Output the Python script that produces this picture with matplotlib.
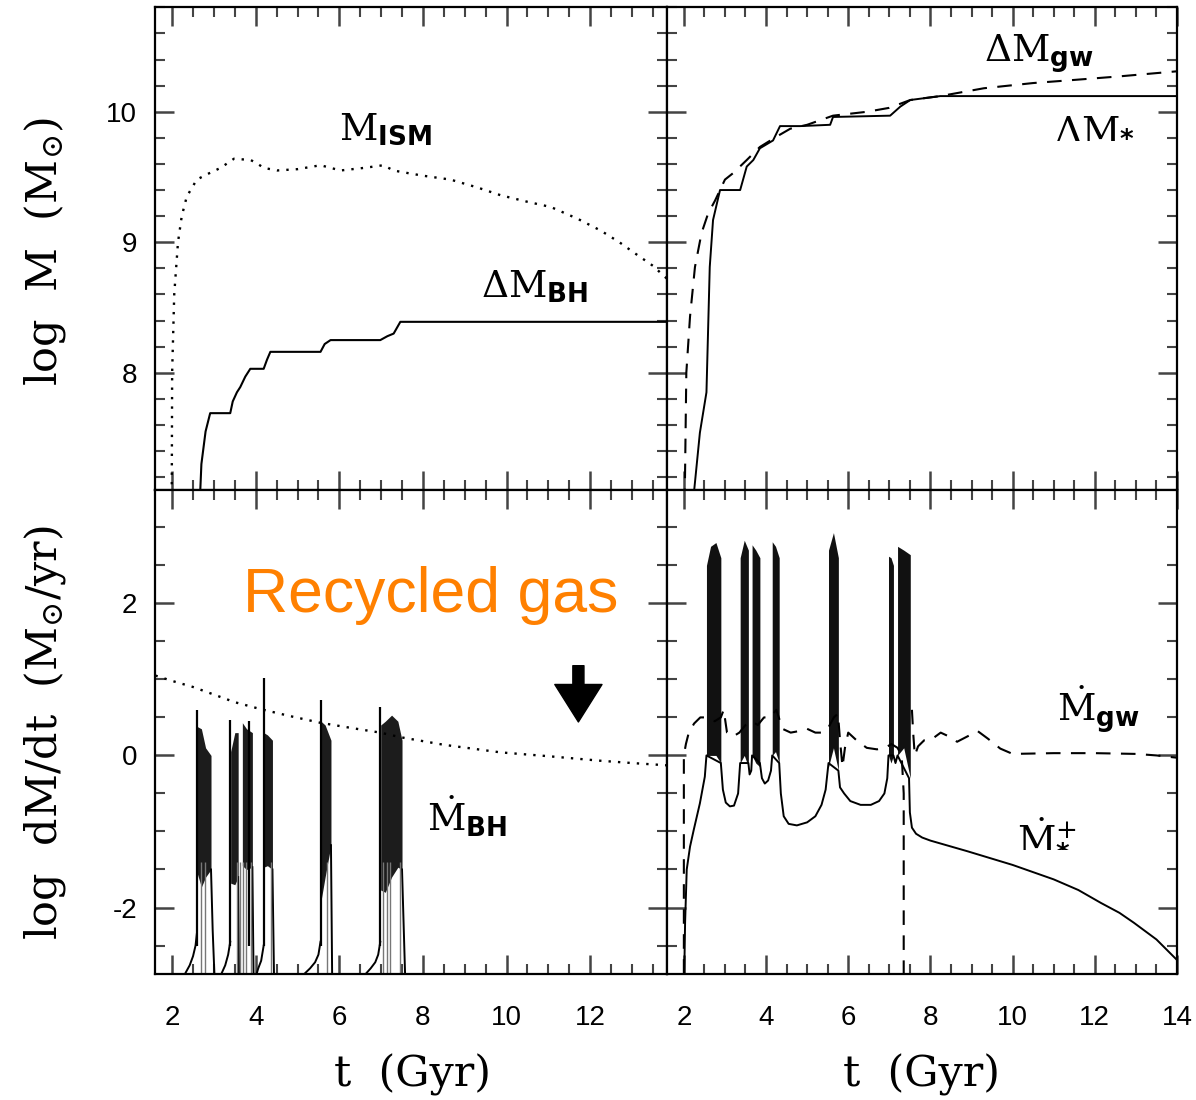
import matplotlib
matplotlib.use('Agg')
import matplotlib.pyplot as plt
from matplotlib import font_manager
from matplotlib.ticker import MultipleLocator
import numpy as np

plt.rcParams['axes.unicode_minus'] = False
plt.rcParams['mathtext.fontset'] = 'custom'
plt.rcParams['mathtext.rm'] = 'DejaVu Serif'
plt.rcParams['mathtext.it'] = 'DejaVu Serif:italic'
plt.rcParams['mathtext.bf'] = 'DejaVu Sans:bold'

# ---------------- data ----------------
# top left: ISM mass and accreted BH mass
ism_t = [1.99, 2.0, 2.05, 2.14, 2.23, 2.35, 2.59, 2.83, 3.16, 3.48, 3.88, 4.05, 4.19, 4.51, 5.0,
         5.55, 6.03, 6.6, 7.05, 7.3, 7.46, 8.0, 8.66, 9.3, 9.86, 10.5, 11.06, 11.7, 12.25, 12.7,
         13.05, 13.5, 13.84]
ism_y = [7.0, 8.0, 8.6, 9.0, 9.2, 9.35, 9.48, 9.52, 9.57, 9.64, 9.63, 9.6, 9.57, 9.55, 9.56,
         9.59, 9.55, 9.57, 9.59, 9.55, 9.54, 9.51, 9.48, 9.42, 9.36, 9.31, 9.27, 9.18, 9.09, 9.0,
         8.92, 8.82, 8.72]
dmbh_t = [2.66, 2.70, 2.80, 2.91, 3.39, 3.45, 3.55, 3.63, 3.75, 3.87, 4.19, 4.27, 4.35, 5.55,
          5.65, 5.79, 6.98, 7.15, 7.30, 7.46, 13.84]
dmbh_y = [7.0, 7.3, 7.55, 7.69, 7.69, 7.78, 7.85, 7.89, 7.97, 8.03, 8.03, 8.10, 8.16, 8.16,
          8.22, 8.25, 8.25, 8.28, 8.30, 8.39, 8.39]

# top right: galactic wind mass and new stars
dmgw_t = [2.02, 2.06, 2.15, 2.27, 2.43, 2.59, 2.76, 3.0, 3.2, 3.53, 3.85, 4.26, 4.59, 5.0, 5.63,
          6.46, 7.0, 7.51, 8.24, 9.3, 10.5, 11.34, 12.56, 14.0]
dmgw_y = [7.0, 8.0, 8.43, 8.81, 9.07, 9.22, 9.32, 9.48, 9.53, 9.63, 9.73, 9.81, 9.87, 9.9, 9.97,
          10.0, 10.03, 10.09, 10.12, 10.18, 10.22, 10.24, 10.27, 10.31]
dmst_t = [2.22, 2.39, 2.55, 2.63, 2.71, 2.88, 3.37, 3.53, 3.69, 3.85, 4.17, 4.34, 4.83, 5.56,
          5.63, 7.02, 7.27, 7.51, 8.24, 14.0]
dmst_y = [7.0, 7.54, 7.85, 8.81, 9.17, 9.4, 9.4, 9.58, 9.63, 9.72, 9.78, 9.89, 9.89, 9.90,
          9.96, 9.97, 10.04, 10.09, 10.12, 10.12]

# bottom left: recycled gas rate and BH accretion bursts
rec_t = [1.6, 2.0, 2.5, 3.0, 3.5, 4.11, 4.8, 5.54, 6.3, 6.98, 7.46, 8.5, 9.86, 11.0, 12.25,
         13.0, 13.84]
rec_y = [1.05, 0.98, 0.9, 0.8, 0.7, 0.61, 0.52, 0.43, 0.36, 0.30, 0.24, 0.14, 0.04, -0.01,
         -0.07, -0.10, -0.13]

bh_rise_t = [[2.20, 2.32, 2.42, 2.50, 2.56, 2.59], [3.08, 3.18, 3.27, 3.34, 3.39],
             [3.98, 4.06, 4.13, 4.19], [4.98, 5.15, 5.30, 5.42, 5.50, 5.55],
             [6.48, 6.62, 6.75, 6.86, 6.93, 6.98]]
bh_rise_y = [[-3.0, -2.86, -2.76, -2.64, -2.5, -2.35], [-3.0, -2.87, -2.76, -2.62, -2.45],
             [-2.95, -2.8, -2.7, -2.5], [-3.0, -2.88, -2.8, -2.72, -2.62, -2.45],
             [-3.0, -2.88, -2.8, -2.72, -2.62, -2.45]]
bh_spike_t = [2.59, 3.39, 3.84, 4.19, 5.55, 6.98]
bh_spike_y = [0.60, 0.47, 0.45, 1.02, 0.73, 0.64]
bh_band_t = [[2.60, 2.70, 2.80, 2.93], [3.40, 3.50, 3.58], [3.68, 3.78, 3.92],
             [4.19, 4.28, 4.40], [5.56, 5.66, 5.80], [6.99, 7.10, 7.25, 7.40, 7.50]]
bh_band_hi = [[0.38, 0.35, 0.1, 0.0], [0.05, 0.3, 0.3], [0.43, 0.35, 0.3],
              [0.3, 0.27, 0.2], [0.45, 0.4, 0.2], [0.4, 0.45, 0.53, 0.45, 0.2]]
bh_band_lo = [[-1.55, -1.73, -1.6, -1.5], [-1.68, -1.7, -1.6], [-1.45, -1.5, -1.47],
              [-1.47, -1.45, -1.5], [-1.92, -1.6, -1.18], [-1.77, -1.8, -1.6, -1.47, -1.5]]
bh_drop_t = [[2.93, 2.97, 3.02], [3.58, 3.60], [3.92, 3.95], [4.40, 4.44], [5.80, 5.83],
             [7.50, 7.58]]
bh_drop_y = [[-1.5, -2.3, -3.0], [-1.6, -3.0], [-1.47, -3.0], [-1.5, -3.0], [-1.18, -3.0],
             [-1.5, -3.0]]
bh_gray_t = [2.68, 2.78, 3.55, 3.63, 3.70, 3.76, 3.88, 4.36, 5.70, 7.05, 7.15, 7.22, 7.45]

# bottom right: wind rate and star formation rate
gw_t = [2.0, 2.0, 2.05, 2.12, 2.25, 2.4, 2.55, 2.75, 2.9, 2.97, 3.05, 3.2, 3.35, 3.5, 3.65,
        3.8, 3.95, 4.1, 4.25, 4.4, 4.6, 4.8, 5.0, 5.2, 5.35, 5.5, 5.65, 5.75, 5.8, 5.86, 5.92,
        6.0, 6.2, 6.45, 6.7, 6.9, 7.05, 7.2, 7.3, 7.35, 7.35, np.nan,
        7.55, 7.58, 7.62, 7.7, 7.85, 8.05, 8.25, 8.45, 8.65, 8.9, 9.15, 9.4, 9.7, 10.0, 11.0,
        12.0, 13.0, 13.5, 14.0]
gw_y = [-3.2, 0.0, 0.15, 0.3, 0.42, 0.5, 0.5, 0.45, 0.5, 0.6, 0.3, 0.25, 0.3, 0.4, 0.45,
        0.4, 0.5, 0.5, 0.6, 0.35, 0.3, 0.32, 0.35, 0.3, 0.3, 0.35, 0.5, 0.55, 0.2, -0.15, 0.1,
        0.3, 0.2, 0.1, 0.08, 0.1, 0.15, 0.1, 0.0, -0.5, -3.2, np.nan,
        0.6, 0.3, 0.0, 0.12, 0.2, 0.22, 0.3, 0.25, 0.18, 0.25, 0.32, 0.22, 0.09, 0.02, 0.03,
        0.03, 0.02, 0.0, -0.03]
sf_t = [2.0, 2.03, 2.07, 2.15, 2.24, 2.39, 2.51, 2.55, 2.9, 2.95, 3.02, 3.12, 3.22, 3.32,
        3.37, 3.57, 3.6, 3.64, 3.66, 3.85, 3.9, 3.97, 4.05, 4.12, 4.15, 4.32, 4.36, 4.43, 4.55,
        4.75, 5.0, 5.2, 5.35, 5.45, 5.52, 5.76, 5.8, 5.9, 6.05, 6.3, 6.55, 6.75, 6.88, 6.95,
        6.98, 7.1, 7.15, 7.2, 7.48, 7.5, 7.55, 7.65, 7.8, 8.0, 8.9, 10.0, 11.0, 11.6, 12.15,
        12.6, 12.95, 13.5, 14.0]
sf_y = [-3.2, -2.2, -1.5, -1.2, -0.98, -0.63, -0.28, 0.0, -0.1, -0.45, -0.62, -0.67, -0.66,
        -0.5, -0.1, -0.1, -0.25, -0.2, 0.0, -0.1, -0.3, -0.37, -0.33, -0.2, 0.0, -0.1, -0.5,
        -0.8, -0.9, -0.92, -0.88, -0.8, -0.65, -0.45, -0.1, -0.2, -0.42, -0.5, -0.6, -0.65,
        -0.65, -0.6, -0.5, -0.3, 0.0, 0.0, -0.1, 0.0, -0.3, -0.75, -0.95, -1.03, -1.08, -1.12,
        -1.26, -1.44, -1.63, -1.77, -1.94, -2.07, -2.2, -2.42, -2.69]
sf_band_t = [[2.55, 2.65, 2.78, 2.90], [3.37, 3.47, 3.57], [3.66, 3.75, 3.85],
             [4.15, 4.23, 4.32], [5.52, 5.64, 5.76], [6.98, 7.04, 7.10], [7.20, 7.35, 7.51]]
sf_band_hi = [[2.5, 2.75, 2.8, 2.6], [2.6, 2.83, 2.7], [2.77, 2.7, 2.6], [2.81, 2.75, 2.6],
              [2.7, 2.93, 2.6], [2.62, 2.6, 2.5], [2.75, 2.7, 2.64]]
sf_band_lo = [[0.0, 0.0, 0.0, -0.1], [-0.1, 0.0, -0.15], [0.0, -0.1, -0.15], [0.0, 0.05, -0.1],
              [-0.15, 0.1, -0.2], [0.0, -0.1, 0.0], [0.0, 0.1, -0.3]]

# ---------------- figure ----------------
fig = plt.figure(figsize=(11.96, 11.0), dpi=100)
ax_tl = fig.add_axes([0.1296, 0.5550, 0.4281, 0.4389])
ax_tr = fig.add_axes([0.5577, 0.5550, 0.4264, 0.4389])
ax_bl = fig.add_axes([0.1296, 0.1145, 0.4281, 0.4400])
ax_br = fig.add_axes([0.5577, 0.1145, 0.4264, 0.4400])

# narrow sans for the tick numbers if there is one
try:
    font_manager.findfont('Liberation Sans Narrow', fallback_to_default=False)
    tick_font = 'Liberation Sans Narrow'
except ValueError:
    tick_font = 'Liberation Sans'

dotted = (0, (1, 3))
dashed = (0, (7, 5))


def style(ax, xlim, ylim, ymin, xlab, ylab):
    ax.set_xlim(xlim)
    ax.set_ylim(ylim)
    ax.xaxis.set_major_locator(MultipleLocator(2))
    ax.xaxis.set_minor_locator(MultipleLocator(0.5))
    ax.yaxis.set_major_locator(MultipleLocator(1 if ymin < 0.5 else 2))
    ax.yaxis.set_minor_locator(MultipleLocator(ymin))
    ax.tick_params(which='both', direction='in', top=True, right=True, color='#444',
                   labelbottom=xlab, labelleft=ylab, labelsize=20,
                   labelfontfamily=tick_font)
    ax.tick_params(which='major', length=14, width=1.8)
    ax.tick_params(which='minor', length=7, width=1.5)
    ax.tick_params(axis='x', pad=22)
    ax.tick_params(axis='y', pad=13)
    for s in ax.spines.values():
        s.set_linewidth(1.6)


style(ax_tl, (1.59, 13.84), (7.105, 10.805), 0.2, False, True)
style(ax_tr, (1.59, 14.0), (7.105, 10.805), 0.2, False, False)
style(ax_bl, (1.59, 13.84), (-2.875, 3.49), 0.5, True, True)
style(ax_br, (1.59, 14.0), (-2.875, 3.49), 0.5, True, False)

# top left
ax_tl.plot(ism_t, ism_y, color='black', lw=1.7, ls=dotted)
ax_tl.plot(dmbh_t, dmbh_y, color='black', lw=1.5)
ax_tl.text(6.0, 9.78, r'$\mathrm{M}_{\mathbf{ISM}}$', fontsize=27)
ax_tl.text(9.4, 8.58, r'$\Delta\mathrm{M}_{\mathbf{BH}}$', fontsize=27)

# top right
ax_tr.plot(dmgw_t, dmgw_y, color='black', lw=1.5, ls=dashed)
ax_tr.plot(dmst_t, dmst_y, color='black', lw=1.4)
ax_tr.text(9.3, 10.38, r'$\Delta\mathrm{M}_{\mathbf{gw}}$', fontsize=27)
ax_tr.text(11.0, 9.80, r'$\Delta\mathrm{M}_{\mathbf{*}}$', fontsize=27)

# bottom left
ax_bl.plot(rec_t, rec_y, color='black', lw=1.7, ls=dotted)
for t, y in zip(bh_rise_t, bh_rise_y):
    ax_bl.plot(t, y, color='black', lw=1.4)
for t, y in zip(bh_drop_t, bh_drop_y):
    ax_bl.plot(t, y, color='black', lw=1.4)
for t, lo, hi in zip(bh_band_t, bh_band_lo, bh_band_hi):
    ax_bl.fill_between(t, lo, hi, color='#1c1c1c', lw=0)
ax_bl.vlines(bh_spike_t, -2.5, bh_spike_y, color='black', lw=1.6)
ax_bl.vlines(bh_gray_t, -3.0, -1.4, color='#777', lw=1.0)
ax_bl.text(8.1, -1.0, r'$\dot{\mathrm{M}}_{\mathbf{BH}}$', fontsize=27)
ax_bl.text(3.70, 1.89, 'Recycled gas', fontsize=45, color='#FF8000',
           family=['Liberation Sans', 'DejaVu Sans'])
ax_bl.annotate('', xy=(11.72, 0.44), xytext=(11.72, 1.18),
               arrowprops=dict(arrowstyle='simple,head_length=2.7,head_width=3.4,tail_width=0.8',
                               color='black', shrinkA=0, shrinkB=0))

# bottom right
ax_br.plot(gw_t, gw_y, color='black', lw=1.5, ls=dashed)
ax_br.plot(sf_t, sf_y, color='black', lw=1.4)
for t, lo, hi in zip(sf_band_t, sf_band_lo, sf_band_hi):
    ax_br.fill_between(t, lo, hi, color='#111', lw=0)
ax_br.text(11.07, 0.45, r'$\dot{\mathrm{M}}_{\mathbf{gw}}$', fontsize=27)
ax_br.text(10.1, -1.19, r'$\dot{\mathrm{M}}_{\mathbf{*}}^{+}$', fontsize=27)

# axis labels
lab_kw = dict(fontsize=31, family='DejaVu Serif', ha='center', va='center')
ax_tl.text(-0.215, 0.492, r'log  M  (M$_{\odot}$)', rotation=90, transform=ax_tl.transAxes, **lab_kw)
ax_bl.text(-0.215, 0.498, r'log  dM/dt  (M$_{\odot}$/yr)', rotation=90, transform=ax_bl.transAxes, **lab_kw)
ax_bl.text(0.502, -0.209, 't  (Gyr)', transform=ax_bl.transAxes, **lab_kw)
ax_br.text(0.5, -0.209, 't  (Gyr)', transform=ax_br.transAxes, **lab_kw)

plt.savefig('out.png', dpi=100)
